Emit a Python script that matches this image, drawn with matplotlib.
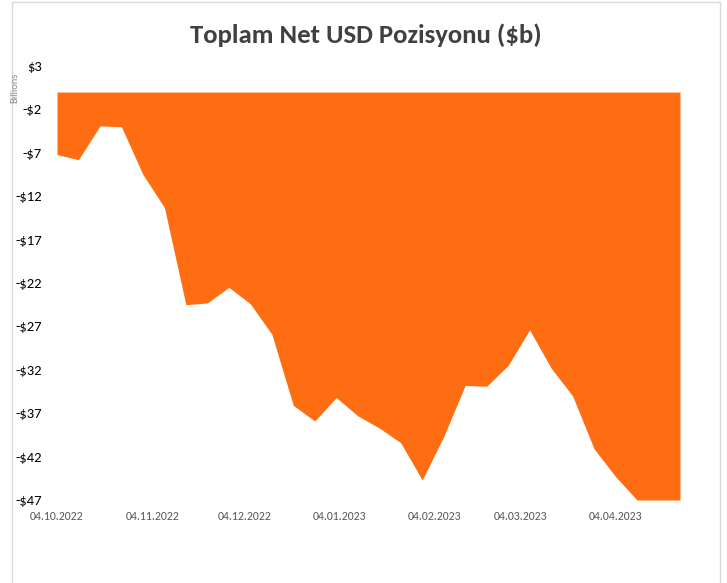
import matplotlib.pyplot as plt
import matplotlib.dates as mdates
from matplotlib.patches import Rectangle
from matplotlib.ticker import FuncFormatter, MultipleLocator
import pandas as pd

# weekly data, $ billions
dates = pd.date_range('2022-10-04', periods=30, freq='7D')
net_usd = [-7.2, -7.8, -3.9, -4.0, -9.5, -13.3, -24.5, -24.3, -22.5, -24.4,
           -27.9, -36.1, -37.9, -35.2, -37.3, -38.7, -40.4, -44.7, -39.7, -33.8,
           -33.9, -31.5, -27.4, -31.8, -35.0, -41.1, -44.3, -47.0, -47.0, -47.0]
tick_dates = pd.to_datetime(['2022-10-04', '2022-11-04', '2022-12-04', '2023-01-04',
                             '2023-02-04', '2023-03-04', '2023-04-04'])

plt.rcParams['font.family'] = ['Carlito', 'DejaVu Sans']

fig = plt.figure(figsize=(7.27, 5.83), dpi=100)
# chart frame
fig.patches.append(Rectangle((12 / 727, -0.01), 708 / 727, 1 - 2 / 583 + 0.01,
                             transform=fig.transFigure, fill=False,
                             edgecolor='#d9d9d9', linewidth=1))

ax = fig.add_axes([57 / 727, 1 - 500 / 583, 623 / 727, 434 / 583])
ax.fill_between(dates, net_usd, 0, color='#FF6D13', linewidth=0)

ax.set_xlim(dates[0], dates[-1])
ax.set_ylim(-47, 3)
ax.yaxis.set_major_locator(MultipleLocator(5, offset=3))
ax.yaxis.set_major_formatter(FuncFormatter(
    lambda v, p: f'-${abs(v):.0f}' if v < 0 else f'${v:.0f}'))
ax.set_xticks(tick_dates)
ax.xaxis.set_major_formatter(mdates.DateFormatter('%d.%m.%Y'))

for s in ax.spines.values():
    s.set_visible(False)
ax.tick_params(axis='y', length=0, pad=11, labelsize=10.5, labelcolor='#000000')
ax.tick_params(axis='x', length=0, pad=8, labelsize=8.5, labelcolor='#595959')

fig.text(0.503, 1 - 35 / 583, 'Toplam Net USD Pozisyonu ($b)', ha='center', va='center',
         fontsize=19.3, fontweight='bold', color='#404040')
fig.text(15 / 727, 1 - 88 / 583, 'Billions', rotation=90, ha='center', va='center',
         fontsize=7.5, color='#8c8c8c')

plt.savefig('out.png', dpi=100)
